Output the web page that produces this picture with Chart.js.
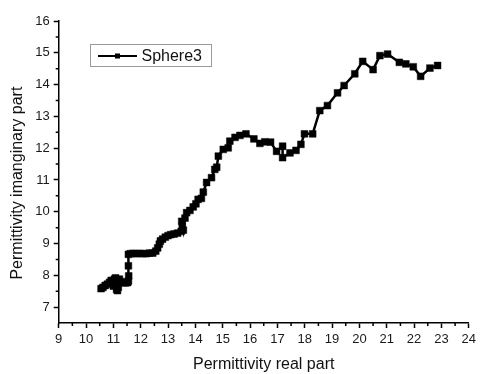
<!DOCTYPE html>
<html>
<head>
<meta charset="utf-8">
<script src="https://cdn.jsdelivr.net/npm/chart.js@4"></script>
<style>
  html, body { margin: 0; padding: 0; background: #fff; }
  #wrap { width: 480px; height: 374px; }
</style>
</head>
<body>
<div id="wrap"><canvas id="grafico"></canvas></div>
<script>
const seriesName = 'Sphere3';
const xTitle = 'Permittivity real part';
const yTitle = 'Permittivity imanginary part';

const realPart = [
  10.55, 10.62, 10.70, 10.78, 10.86, 10.92, 10.97, 11.00, 11.04, 11.08,
  11.12, 11.15, 11.18, 11.22, 11.28, 11.36, 11.44, 11.52, 11.56, 11.55,
  11.55, 11.55, 11.62, 11.72, 11.84, 11.96, 12.08, 12.20, 12.32, 12.44,
  12.55, 12.62, 12.68, 12.72, 12.80, 12.90, 13.00, 13.10, 13.22, 13.35,
  13.48, 13.52, 13.50, 13.56, 13.62, 13.68, 13.80, 13.92, 14.02, 14.10,
  14.22, 14.29, 14.41, 14.59, 14.71, 14.78, 14.84, 15.02, 15.20, 15.26,
  15.45, 15.63, 15.85, 16.14, 16.36, 16.54, 16.75, 16.97, 17.19, 17.19,
  17.46, 17.68, 17.86, 17.99, 18.29, 18.55, 18.83, 19.20, 19.44, 19.83,
  20.12, 20.50, 20.75, 21.03, 21.46, 21.70, 21.97, 22.24, 22.58, 22.86
];
const imagPart = [
  7.58, 7.62, 7.68, 7.72, 7.78, 7.84, 7.76, 7.66, 7.88, 7.92,
  7.55, 7.52, 7.62, 7.88, 7.80, 7.77, 7.76, 7.77, 7.98, 7.82,
  8.30, 8.66, 8.68, 8.69, 8.68, 8.69, 8.68, 8.68, 8.70, 8.70,
  8.76, 8.86, 8.98, 9.08, 9.14, 9.20, 9.25, 9.28, 9.30, 9.33,
  9.38, 9.55, 9.70, 9.42, 9.80, 9.97, 10.04, 10.15, 10.25, 10.39,
  10.42, 10.62, 10.92, 11.07, 11.33, 11.40, 11.75, 11.96, 12.01, 12.22,
  12.34, 12.40, 12.45, 12.29, 12.15, 12.20, 12.19, 11.90, 12.06, 11.70,
  11.85, 11.93, 12.12, 12.45, 12.45, 13.18, 13.34, 13.74, 13.97, 14.34,
  14.73, 14.47, 14.91, 14.96, 14.70, 14.65, 14.56, 14.26, 14.52, 14.60
];

const xTicks = [9, 10, 11, 12, 13, 14, 15, 16, 17, 18, 19, 20, 21, 22, 23, 24];
const yTicks = [7, 8, 9, 10, 11, 12, 13, 14, 15, 16];

const points = realPart.map((x, i) => ({x, y: imagPart[i]}));

// minor ticks halfway between the major ones, drawn outward like the majors
const minorTicks = {
  id: 'minorTicks',
  afterDraw(chart) {
    const {ctx, scales: {x, y}} = chart;
    ctx.save();
    ctx.strokeStyle = '#000';
    ctx.lineWidth = 1.5;
    ctx.beginPath();
    for (let i = 0; i < xTicks.length - 1; i++) {
      const px = x.getPixelForValue((xTicks[i] + xTicks[i + 1]) / 2);
      ctx.moveTo(px, x.top);
      ctx.lineTo(px, x.top + 3);
    }
    for (let i = 0; i < yTicks.length - 1; i++) {
      const py = y.getPixelForValue((yTicks[i] + yTicks[i + 1]) / 2);
      ctx.moveTo(y.right, py);
      ctx.lineTo(y.right - 3, py);
    }
    ctx.stroke();
    ctx.restore();
  }
};

// boxed legend like the origin style one
const boxLegend = {
  id: 'boxLegend',
  afterDraw(chart) {
    const ctx = chart.ctx;
    const label = chart.data.datasets[0].label;
    ctx.save();
    ctx.strokeStyle = '#9a9a9a';
    ctx.lineWidth = 1;
    ctx.strokeRect(90.5, 44.5, 121, 22);
    ctx.strokeStyle = '#000';
    ctx.lineWidth = 2;
    ctx.beginPath();
    ctx.moveTo(98, 56);
    ctx.lineTo(137, 56);
    ctx.stroke();
    ctx.fillStyle = '#000';
    ctx.fillRect(115, 53.5, 5, 5);
    ctx.font = '16px "Liberation Sans", Arial, sans-serif';
    ctx.textBaseline = 'middle';
    ctx.fillStyle = '#111';
    ctx.fillText(label, 141.5, 56.5);
    ctx.restore();
  }
};

const fontFam = '"Liberation Sans", Arial, sans-serif';

new Chart(document.getElementById('grafico').getContext('2d'), {
  type: 'scatter',
  data: {
    datasets: [{
      label: seriesName,
      data: points,
      showLine: true,
      borderColor: '#000',
      borderWidth: 2.5,
      backgroundColor: '#000',
      pointStyle: 'rect',
      pointRadius: 4.8,
      pointBorderWidth: 0.5,
      pointBorderColor: '#000',
      pointBackgroundColor: '#000',
      tension: 0
    }]
  },
  options: {
    responsive: true,
    maintainAspectRatio: false,
    animation: false,
    layout: {
      padding: {top: 21, right: 11, left: 0, bottom: 0}
    },
    plugins: {
      legend: {display: false},
      tooltip: {enabled: false}
    },
    scales: {
      x: {
        type: 'linear',
        min: 9,
        max: 24,
        afterBuildTicks: scale => { scale.ticks = xTicks.map(v => ({value: v})); },
        afterFit: scale => { scale.height = 51; },
        grid: {
          drawOnChartArea: false,
          tickLength: 5,
          tickColor: '#000',
          tickWidth: 1.5
        },
        border: {display: true, color: '#000', width: 1.5},
        ticks: {
          color: '#1a1a1a',
          padding: 4,
          maxRotation: 0,
          autoSkip: false,
          font: {family: fontFam, size: 13}
        },
        title: {
          display: true,
          text: xTitle,
          color: '#111',
          padding: {top: 0, bottom: 0},
          font: {family: fontFam, size: 16}
        }
      },
      y: {
        type: 'linear',
        min: 6.5,
        max: 16,
        afterBuildTicks: scale => { scale.ticks = yTicks.map(v => ({value: v})); },
        afterFit: scale => { scale.width = 58.7; },
        grid: {
          drawOnChartArea: false,
          tickLength: 5,
          tickColor: '#000',
          tickWidth: 1.5
        },
        border: {display: true, color: '#000', width: 1.5},
        ticks: {
          color: '#1a1a1a',
          padding: 4,
          autoSkip: false,
          font: {family: fontFam, size: 13}
        },
        title: {
          display: true,
          text: yTitle + '     ',
          color: '#111',
          padding: {top: 8, bottom: 0},
          font: {family: fontFam, size: 16}
        }
      }
    }
  },
  plugins: [minorTicks, boxLegend]
});
</script>
</body>
</html>
